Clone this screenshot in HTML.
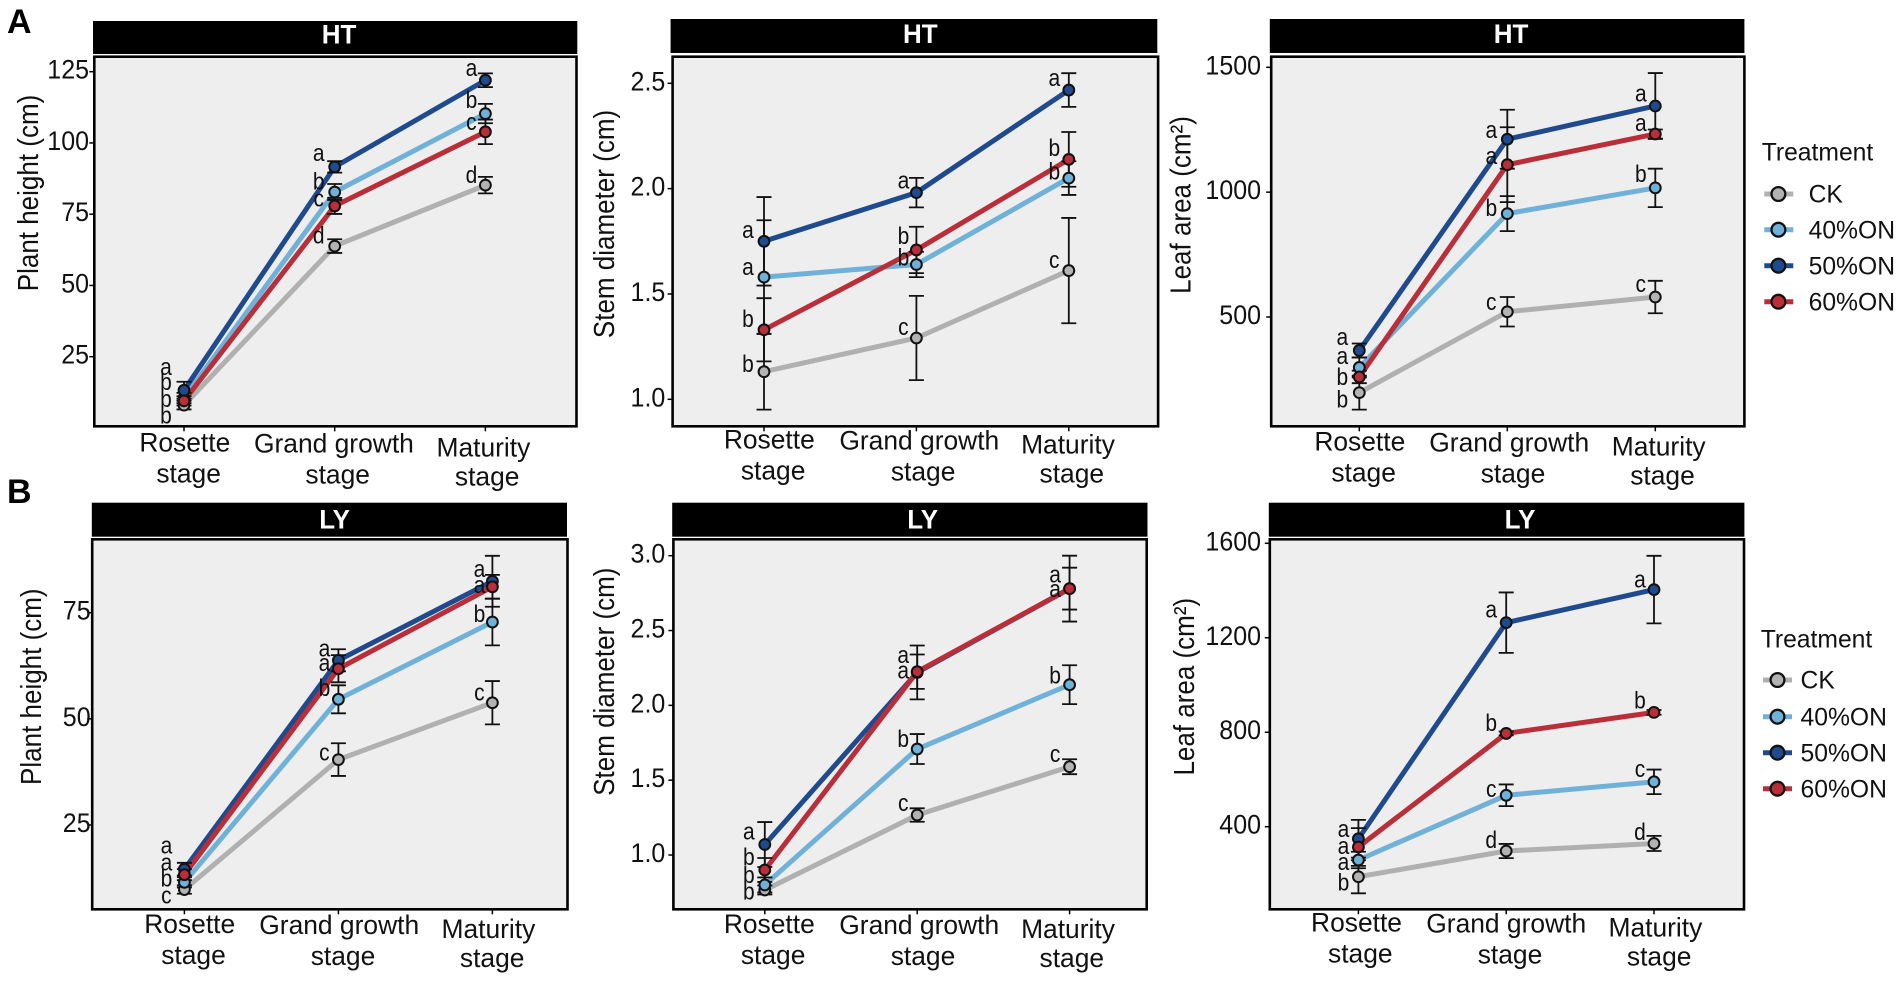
<!DOCTYPE html>
<html lang="en">
<head>
<meta charset="utf-8">
<title>Plant growth by treatment</title>
<style>
html,body{margin:0;padding:0;background:#fff;width:1901px;height:983px;overflow:hidden}
svg{display:block;font-family:"Liberation Sans",Arial,sans-serif}
</style>
</head>
<body>
<svg id="fig" xmlns="http://www.w3.org/2000/svg" width="1901" height="983" viewBox="0 0 1901 983">
<text x="7" y="33" font-size="34" font-weight="bold">A</text>
<text x="7" y="503" font-size="34" font-weight="bold">B</text>
</svg>
<script>
const categories = ['Rosette stage', 'Grand growth stage', 'Maturity stage'];
const treatments = ['CK', '40%ON', '50%ON', '60%ON'];

// HT plant height
const htHeightTicks = ['25', '50', '75', '100', '125'];
const htHeightCK = [8, 63.8, 85.2];
const htHeight40 = [10.5, 82.8, 110.3];
const htHeight50 = [13.2, 91.6, 122];
const htHeight60 = [9.5, 77.9, 103.9];
const htHeightErrCK = [1.5, 2.4, 2.9];
const htHeightErr40 = [1.8, 2.8, 3.4];
const htHeightErr50 = [3, 2, 2.4];
const htHeightErr60 = [1.6, 2.8, 4.3];
const htHeightLetCK = ['b', 'd', 'd'];
const htHeightLet40 = ['b', 'b', 'b'];
const htHeightLet50 = ['a', 'a', 'a'];
const htHeightLet60 = ['b', 'c', 'c'];
const htHeightLetAtCK = [3.7, 66.9, 88.2];
const htHeightLetAt40 = [15.5, 85.9, 114.5];
const htHeightLetAt50 = [20.8, 95.8, 125.6];
const htHeightLetAt60 = [9.6, 79.9, 106.7];

// HT stem diameter
const htStemTicks = ['1.0', '1.5', '2.0', '2.5'];
const htStemCK = [1.131, 1.291, 1.611];
const htStem40 = [1.58, 1.64, 2.05];
const htStem50 = [1.75, 1.981, 2.468];
const htStem60 = [1.33, 1.709, 2.139];
const htStemErrCK = [0.18, 0.2, 0.25];
const htStemErr40 = [0.27, 0.06, 0.08];
const htStemErr50 = [0.21, 0.07, 0.08];
const htStemErr60 = [0.15, 0.11, 0.13];
const htStemLetCK = ['b', 'c', 'c'];
const htStemLet40 = ['a', 'b', 'b'];
const htStemLet50 = ['a', 'a', 'a'];
const htStemLet60 = ['b', 'b', 'b'];
const htStemLetAtCK = [1.16, 1.334, 1.653];
const htStemLetAt40 = [1.62, 1.665, 2.073];
const htStemLetAt50 = [1.796, 2.03, 2.516];
const htStemLetAt60 = [1.373, 1.767, 2.184];

// HT leaf area
const htLeafTicks = ['500', '1000', '1500'];
const htLeafCK = [197, 521, 580];
const htLeaf40 = [298, 914, 1017];
const htLeaf50 = [366, 1212, 1345];
const htLeaf60 = [260, 1110, 1233];
const htLeafErrCK = [68, 59, 65];
const htLeafErr40 = [40, 70, 77];
const htLeafErr50 = [28, 118, 132];
const htLeafErr60 = [25, 150, 18];
const htLeafLetCK = ['b', 'c', 'c'];
const htLeafLet40 = ['a', 'b', 'b'];
const htLeafLet50 = ['a', 'a', 'a'];
const htLeafLet60 = ['b', 'a', 'a'];
const htLeafLetAtCK = [163, 552, 624];
const htLeafLetAt40 = [336, 929, 1065];
const htLeafLetAt50 = [412, 1242, 1387];
const htLeafLetAt60 = [252, 1137, 1269];

// LY plant height
const lyHeightTicks = ['25', '50', '75'];
const lyHeightCK = [9.8, 40.4, 53.8];
const lyHeight40 = [11.5, 54.6, 72.8];
const lyHeight50 = [14.6, 63.8, 82.4];
const lyHeight60 = [13.3, 61.8, 81.1];
const lyHeightErrCK = [1, 3.85, 5.1];
const lyHeightErr40 = [1.2, 3.3, 5.5];
const lyHeightErr50 = [1.5, 2.6, 6];
const lyHeightErr60 = [1.3, 3.2, 2.8];
const lyHeightLetCK = ['c', 'c', 'c'];
const lyHeightLet40 = ['b', 'b', 'b'];
const lyHeightLet50 = ['a', 'a', 'a'];
const lyHeightLet60 = ['a', 'a', 'a'];
const lyHeightLetAtCK = [8, 41.7, 55.8];
const lyHeightLetAt40 = [12, 56.8, 74.3];
const lyHeightLetAt50 = [19.7, 66.2, 84.9];
const lyHeightLetAt60 = [15.8, 62.7, 81.1];

// LY stem diameter
const lyStemTicks = ['1.0', '1.5', '2.0', '2.5', '3.0'];
const lyStemCK = [0.766, 1.267, 1.59];
const lyStem40 = [0.8, 1.708, 2.138];
const lyStem50 = [1.07, 2.22, 2.78];
const lyStem60 = [0.9, 2.225, 2.78];
const lyStemErrCK = [0.03, 0.045, 0.05];
const lyStemErr40 = [0.05, 0.1, 0.13];
const lyStemErr50 = [0.15, 0.18, 0.22];
const lyStemErr60 = [0.08, 0.115, 0.14];
const lyStemLetCK = ['b', 'c', 'c'];
const lyStemLet40 = ['b', 'b', 'b'];
const lyStemLet50 = ['a', 'a', 'a'];
const lyStemLet60 = ['b', 'a', 'a'];
const lyStemLetAtCK = [0.744, 1.334, 1.664];
const lyStemLetAt40 = [0.855, 1.762, 2.187];
const lyStemLetAt50 = [1.145, 2.325, 2.864];
const lyStemLetAt60 = [0.973, 2.22, 2.764];

// LY leaf area
const lyLeafTicks = ['400', '800', '1200', '1600'];
const lyLeafCK = [188, 297, 329];
const lyLeaf40 = [259, 533, 590];
const lyLeaf50 = [349, 1264, 1404];
const lyLeaf60 = [314, 795, 884];
const lyLeafErrCK = [70, 30, 32];
const lyLeafErr40 = [35, 46, 52];
const lyLeafErr50 = [80, 128, 143];
const lyLeafErr60 = [80, 8, 10];
const lyLeafLetCK = ['b', 'd', 'd'];
const lyLeafLet40 = ['a', 'c', 'c'];
const lyLeafLet50 = ['a', 'a', 'a'];
const lyLeafLet60 = ['a', 'b', 'b'];
const lyLeafLetAtCK = [157, 336, 369];
const lyLeafLetAt40 = [242, 552, 636];
const lyLeafLetAt50 = [383, 1313, 1440];
const lyLeafLetAt60 = [310, 831, 927];

const lineColors = ['#b0b0b0', '#6fb1d8', '#1f4b8e', '#b92e38'];
const pointColors = ['#b3b3b3', '#6fb1d8', '#1f4b8e', '#b92e38'];
const seriesSlugs = ['ck', '40on', '50on', '60on'];

const panels = [
  {id:'ht-plant-height', strip:'HT', title:'Plant height (cm)', ticks:htHeightTicks,
   vals:[htHeightCK,htHeight40,htHeight50,htHeight60], errs:[htHeightErrCK,htHeightErr40,htHeightErr50,htHeightErr60],
   lets:[htHeightLetCK,htHeightLet40,htHeightLet50,htHeightLet60], letAt:[htHeightLetAtCK,htHeightLetAt40,htHeightLetAt50,htHeightLetAt60],
   box:[94.3,56.7,576.5,426.3], stripBox:[93,21,577.3,54], stripX:339, stripY:43.3, cal:[25,356.7,125,71.7], cat0:184, catStep:150.7,
   labelRight:89, titleX:38, titleY:193, shift:[0.8,-0.8,-2], dy:0, letDx:[-18,-16,-14]},
  {id:'ht-stem-diameter', strip:'HT', title:'Stem diameter (cm)', ticks:htStemTicks,
   vals:[htStemCK,htStem40,htStem50,htStem60], errs:[htStemErrCK,htStemErr40,htStemErr50,htStemErr60],
   lets:[htStemLetCK,htStemLet40,htStemLet50,htStemLet60], letAt:[htStemLetAtCK,htStemLetAt40,htStemLetAt50,htStemLetAt60],
   box:[672.6,56.7,1158.1,426.3], stripBox:[670.6,19,1157.3,53], stripX:920.3, stripY:43, cal:[1,399.3,2.5,83.3], cat0:764, catStep:152.4,
   labelRight:665.3, titleX:614, titleY:224, shift:[5.3,2.9,-0.8], dy:-3, letDx:[-16,-13,-14.5]},
  {id:'ht-leaf-area', strip:'HT', title:'Leaf area (cm\u00B2)', ticks:htLeafTicks,
   vals:[htLeafCK,htLeaf40,htLeaf50,htLeaf60], errs:[htLeafErrCK,htLeafErr40,htLeafErr50,htLeafErr60],
   lets:[htLeafLetCK,htLeafLet40,htLeafLet50,htLeafLet60], letAt:[htLeafLetAtCK,htLeafLetAt40,htLeafLetAt50,htLeafLetAt60],
   box:[1271.2,56.7,1744.4,426.3], stripBox:[1269.8,19,1744.4,53], stripX:1511, stripY:43, cal:[500,317,1500,67.3], cat0:1359.3, catStep:148,
   labelRight:1261, titleX:1190.7, titleY:205, shift:[0.5,1.9,3.4], dy:-1, letDx:[-17,-16,-14.5]},
  {id:'ly-plant-height', strip:'LY', title:'Plant height (cm)', ticks:lyHeightTicks,
   vals:[lyHeightCK,lyHeight40,lyHeight50,lyHeight60], errs:[lyHeightErrCK,lyHeightErr40,lyHeightErr50,lyHeightErr60],
   lets:[lyHeightLetCK,lyHeightLet40,lyHeightLet50,lyHeightLet60], letAt:[lyHeightLetAtCK,lyHeightLetAt40,lyHeightLetAt50,lyHeightLetAt60],
   box:[92.2,539.3,567.5,909.3], stripBox:[91.8,502.7,567,536.7], stripX:334.6, stripY:528.3, cal:[25,825,75,612.7], cat0:184.4, catStep:154,
   labelRight:90.6, titleX:40.8, titleY:686.7, shift:[5.3,0.8,-4], dy:-1.5, letDx:[-18,-14,-13]},
  {id:'ly-stem-diameter', strip:'LY', title:'Stem diameter (cm)', ticks:lyStemTicks,
   vals:[lyStemCK,lyStem40,lyStem50,lyStem60], errs:[lyStemErrCK,lyStemErr40,lyStemErr50,lyStemErr60],
   lets:[lyStemLetCK,lyStemLet40,lyStemLet50,lyStemLet60], letAt:[lyStemLetAtCK,lyStemLetAt40,lyStemLetAt50,lyStemLetAt60],
   box:[673.4,539.3,1146.7,909.3], stripBox:[672.2,502.7,1147.5,536.7], stripX:922.7, stripY:528.3, cal:[1,855,3,555.7], cat0:764.8, catStep:152.4,
   labelRight:665.3, titleX:614, titleY:681.7, shift:[4.5,2,-1.6], dy:-1.5, letDx:[-16,-14,-14.5]},
  {id:'ly-leaf-area', strip:'LY', title:'Leaf area (cm\u00B2)', ticks:lyLeafTicks,
   vals:[lyLeafCK,lyLeaf40,lyLeaf50,lyLeaf60], errs:[lyLeafErrCK,lyLeafErr40,lyLeafErr50,lyLeafErr60],
   lets:[lyLeafLetCK,lyLeafLet40,lyLeafLet50,lyLeafLet60], letAt:[lyLeafLetAtCK,lyLeafLetAt40,lyLeafLetAt50,lyLeafLetAt60],
   box:[1269.8,539.3,1744,909.3], stripBox:[1268.8,502.7,1744.4,536.7], stripX:1520, stripY:528.3, cal:[400,826.7,1600,543.3], cat0:1358.4, catStep:147.8,
   labelRight:1261, titleX:1194, titleY:686.7, shift:[-1.9,0,1.4], dy:-3, letDx:[-15,-15,-14]}
];

const legends = [
  {id:'ht', titleX:1761.7, titleY:160.6, rows:[194,229.7,265.7,301.7], cx:1778.4, x0:1764.3, x1:1793.3, tx:1808.6},
  {id:'ly', titleX:1760.7, titleY:647.3, rows:[680,716.7,752.7,788.7], cx:1777.5, x0:1763, x1:1792, tx:1800.5}
];

const NS = 'http://www.w3.org/2000/svg';
const root = document.getElementById('fig');

function make(parent, tag, attrs, text) {
  const node = document.createElementNS(NS, tag);
  for (const k in attrs) node.setAttribute(k, attrs[k]);
  if (text !== undefined) node.textContent = text;
  parent.appendChild(node);
  return node;
}
function tallText(parent, x, y, stretch, attrs, text) {
  const t = make(parent, 'text', attrs, text);
  t.setAttribute('transform', 'translate(' + x + ',' + y + ') scale(1,' + stretch + ')');
  return t;
}
function linearScale(v0, p0, v1, p1) {
  return v => p0 + (v - v0) * (p1 - p0) / (v1 - v0);
}
function catScale(start, step) {
  return i => start + i * step;
}

panels.forEach(p => {
  const y = linearScale(p.cal[0], p.cal[1], p.cal[2], p.cal[3]);
  const x = catScale(p.cat0, p.catStep);
  const [L, T, R, B] = p.box;

  const g = make(root, 'g', {});
  
  

  const sb = p.stripBox;
  const strip = make(g, 'rect', {x:sb[0], y:sb[1], width:sb[2]-sb[0], height:sb[3]-sb[1], fill:'#000'});
  
  
  const stripText = tallText(g, p.stripX, p.stripY, 1.05, {'text-anchor':'middle', 'font-size':26, 'font-weight':'bold', fill:'#fff'}, p.strip);
  
  

  const bg = make(g, 'rect', {x:L, y:T, width:R-L, height:B-T, fill:'#eeeeee', stroke:'#000', 'stroke-width':2.6});
  
  

  p.ticks.forEach(t => {
    const py = y(parseFloat(t));
    const tick = make(g, 'line', {x1:L-5, x2:L, y1:py, y2:py, stroke:'#000', 'stroke-width':1.5});
    
    
    const label = tallText(g, p.labelRight, py+7, 1.08, {'text-anchor':'end', 'font-size':25, fill:'#111'}, t);
    
    
  });

  const title = make(g, 'text', {transform:'translate(' + p.titleX + ',' + p.titleY + ') rotate(-90) scale(1,1.1)', 'text-anchor':'middle', 'font-size':26, fill:'#111'}, p.title);
  
  

  const line1Dy = [25, 26, 30];
  const line2Dy = [56, 57, 59];
  categories.forEach((c, i) => {
    const px = x(i);
    const tick = make(g, 'line', {x1:px, x2:px, y1:B, y2:B+5, stroke:'#000', 'stroke-width':1.5});
    
    
    const cut = c.lastIndexOf(' ');
    const first = make(g, 'text', {x:px+p.shift[i], y:B+line1Dy[i]+p.dy, 'text-anchor':'middle', 'font-size':26.4, fill:'#111'}, c.slice(0, cut));
    
    
    const second = make(g, 'text', {x:px+p.shift[i]+3.8, y:B+line2Dy[i]+p.dy, 'text-anchor':'middle', 'font-size':26.4, fill:'#111'}, c.slice(cut + 1));
    
    
  });

  p.vals.forEach((vals, s) => {
    const path = make(g, 'polyline', {points:vals.map((v, i) => x(i) + ',' + y(v)).join(' '), fill:'none', stroke:lineColors[s], 'stroke-width':5, 'stroke-linejoin':'round'});
    
    
  });

  p.vals.forEach((vals, s) => {
    vals.forEach((v, i) => {
      const e = p.errs[s][i];
      const px = x(i);
      const d = 'M' + px + ' ' + y(v+e) + 'V' + y(v-e) +
        'M' + (px-7.5) + ' ' + y(v+e) + 'H' + (px+7.5) +
        'M' + (px-7.5) + ' ' + y(v-e) + 'H' + (px+7.5);
      const bar = make(g, 'path', {d:d, fill:'none', stroke:'#111', 'stroke-width':1.8});
      
      
    });
  });

  p.vals.forEach((vals, s) => {
    vals.forEach((v, i) => {
      const pt = make(g, 'circle', {cx:x(i), cy:y(v), r:5.4, fill:pointColors[s], stroke:'#111', 'stroke-width':2});
      
      
    });
  });

  p.lets.forEach((lets, s) => {
    lets.forEach((t, i) => {
      const letter = tallText(g, x(i)+p.letDx[i], y(p.letAt[s][i])+6.2, 1.15, {'text-anchor':'middle', 'font-size':21, fill:'#111'}, t);
      
      
    });
  });
});

legends.forEach(l => {
  const g = make(root, 'g', {});
  
  
  const title = make(g, 'text', {x:l.titleX, y:l.titleY, 'font-size':24.7, fill:'#111'}, 'Treatment');
  
  
  treatments.forEach((t, s) => {
    const ry = l.rows[s];
    const entry = make(g, 'g', {});
    
    
    make(entry, 'line', {x1:l.x0, x2:l.x1, y1:ry, y2:ry, stroke:lineColors[s], 'stroke-width':5});
    make(entry, 'circle', {cx:l.cx, cy:ry, r:6.9, fill:pointColors[s], stroke:'#111', 'stroke-width':2.3});
    make(entry, 'text', {x:l.tx, y:ry+8.7, 'font-size':24.7, fill:'#111'}, t);
  });
});
</script>
</body>
</html>
